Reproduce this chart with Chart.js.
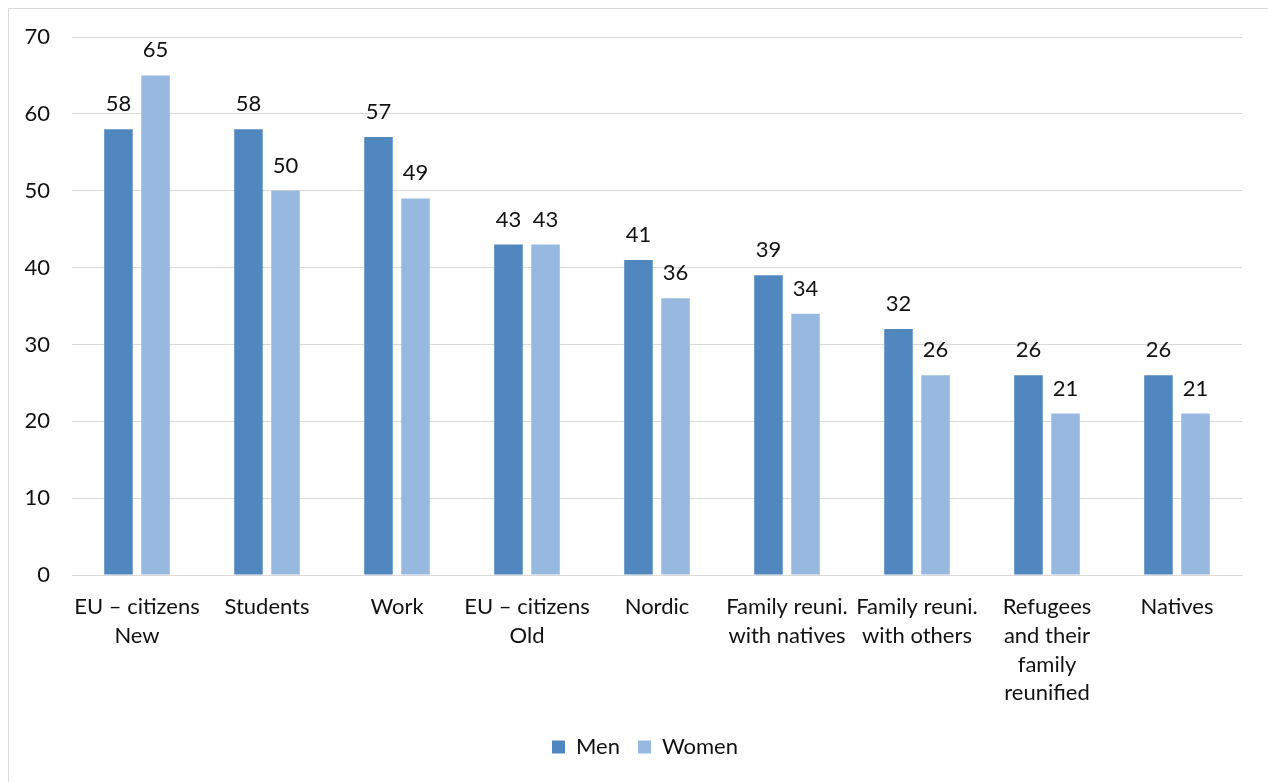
<!DOCTYPE html>
<html>
<head>
<meta charset="utf-8">
<script src="https://cdn.jsdelivr.net/npm/chart.js@4/dist/chart.umd.min.js"></script>
<style>
  html, body { margin: 0; padding: 0; background: #fff; }
  #wrap { position: relative; width: 1268px; height: 782px; overflow: hidden; }
  #frame { position: absolute; left: 8px; top: 8px; width: 1400px; height: 900px;
           border-top: 1px solid #d9d9d9; border-left: 1px solid #d9d9d9; }
  #c { position: absolute; left: 0; top: 0; }
</style>
</head>
<body>
<div id="wrap">
  <div id="frame"></div>
  <canvas id="c" width="1268" height="782"></canvas>
</div>
<script>
const categories = [
  ["EU \u2013 citizens", "New"],
  "Students",
  "Work",
  ["EU \u2013 citizens", "Old"],
  "Nordic",
  ["Family reuni.", "with natives"],
  ["Family reuni.", "with others"],
  ["Refugees", "and their", "family", "reunified"],
  "Natives"
];
const men   = [58, 58, 57, 43, 41, 39, 32, 26, 26];
const women = [65, 50, 49, 43, 36, 34, 26, 21, 21];
const yTicks = [0, 10, 20, 30, 40, 50, 60, 70];

const FONT = "Lato, 'Open Sans', sans-serif";
const FSIZE = 22;
const TEXT = "#111111";

// Value labels above each bar
const valueLabels = {
  id: 'valueLabels',
  afterDatasetsDraw(chart) {
    const ctx = chart.ctx;
    ctx.save();
    ctx.font = FSIZE + "px " + FONT;
    ctx.fillStyle = TEXT;
    ctx.textAlign = 'center';
    ctx.textBaseline = 'alphabetic';
    chart.data.datasets.forEach((ds, i) => {
      chart.getDatasetMeta(i).data.forEach((bar, j) => {
        ctx.fillText(String(ds.data[j]), bar.x, bar.y - 18);
      });
    });
    ctx.restore();
  }
};

// Centre the legend on the plot area rather than the whole canvas
const legendShift = {
  id: 'legendShift',
  afterLayout(chart) {
    const lg = chart.legend;
    if (!lg) return;
    const dx = 24;
    lg.left += dx;
    lg.right += dx;
  }
};

new Chart(document.getElementById('c'), {
  type: 'bar',
  data: {
    labels: categories,
    datasets: [
      { label: 'Men', data: men, backgroundColor: '#4f87be',
        categoryPercentage: 0.57, barPercentage: 0.77 },
      { label: 'Women', data: women, backgroundColor: '#97b9e0',
        categoryPercentage: 0.57, barPercentage: 0.77 }
    ]
  },
  options: {
    responsive: false,
    animation: false,
    layout: { padding: { left: 0, right: 26, top: 37, bottom: 14 } },
    plugins: {
      legend: {
        position: 'bottom',
        labels: {
          font: { family: FONT, size: FSIZE },
          color: TEXT,
          boxWidth: 13, boxHeight: 13,
          padding: 18
        }
      },
      tooltip: { enabled: false }
    },
    scales: {
      x: {
        grid: { display: false, drawTicks: false },
        border: { color: '#d9d9d9' },
        ticks: {
          font: { family: FONT, size: FSIZE, lineHeight: 1.3 },
          color: TEXT,
          maxRotation: 0, autoSkip: false,
          padding: 18
        },
        afterFit(scale) { scale.height = 143; }
      },
      y: {
        min: 0, max: 70,
        afterBuildTicks(scale) { scale.ticks = yTicks.map(v => ({ value: v })); },
        grid: { color: '#d9d9d9', drawTicks: false },
        border: { display: false },
        ticks: {
          font: { family: FONT, size: FSIZE },
          color: TEXT,
          padding: 22
        },
        afterFit(scale) { scale.width = 72; }
      }
    }
  },
  plugins: [valueLabels, legendShift]
});
</script>
</body>
</html>
